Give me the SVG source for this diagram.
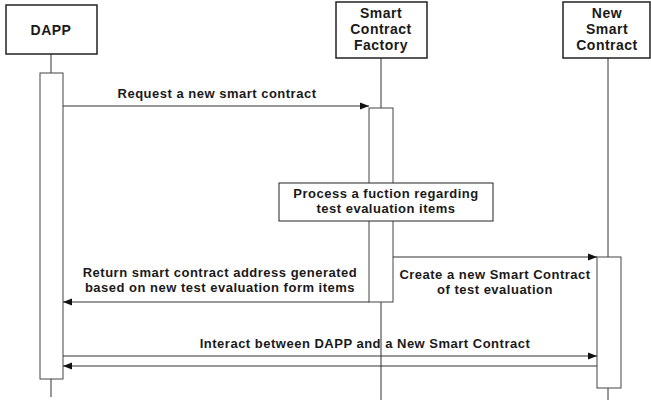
<svg xmlns="http://www.w3.org/2000/svg" width="651" height="401" viewBox="0 0 651 401">
<defs>
<style>
.box{fill:#fff;stroke:#222;stroke-width:1.5}
.act{fill:#fff;stroke:#444;stroke-width:1}
.life{stroke:#333;stroke-width:1;fill:none}
.msg{stroke:#333;stroke-width:1;fill:none}
text{font-family:"Liberation Sans",Arial,sans-serif;font-weight:700;fill:#1a1a1a;text-anchor:middle;letter-spacing:0.5px}
.h{font-size:14px}
.l{font-size:13px}
</style>
<marker id="ah" viewBox="0 0 10 10" refX="10" refY="5" markerWidth="9" markerHeight="9" markerUnits="userSpaceOnUse" orient="auto">
<path d="M0,1 L10,5 L0,9 Z" fill="#111"/>
</marker>
</defs>
<rect width="651" height="401" fill="#fff"/>
<g id="lifelines">
<line class="life" x1="51" y1="54" x2="51" y2="397"/>
<line class="life" x1="381" y1="58" x2="381" y2="400"/>
<line class="life" x1="608" y1="58" x2="608" y2="400"/>
</g>
<g id="dapp">
<rect class="box" x="6" y="5" width="91" height="49"/>
<text class="h" x="51" y="35">DAPP</text>
<rect class="act" x="40" y="73" width="23" height="306"/>
</g>
<g id="factory">
<rect class="box" x="336" y="2" width="91" height="56"/>
<text class="h" x="381" y="18">Smart</text>
<text class="h" x="381" y="34">Contract</text>
<text class="h" x="381" y="50">Factory</text>
<rect class="act" x="369" y="108" width="24" height="194"/>
</g>
<g id="newcontract">
<rect class="box" x="563" y="2" width="87" height="56"/>
<text class="h" x="607" y="18">New</text>
<text class="h" x="607" y="34">Smart</text>
<text class="h" x="607" y="50">Contract</text>
<rect class="act" x="597" y="257" width="24" height="131"/>
</g>
<g id="process">
<rect class="box" x="279" y="183" width="214" height="38" style="stroke-width:1"/>
<text class="l" x="386" y="198">Process a fuction regarding</text>
<text class="l" x="386" y="213">test evaluation items</text>
</g>
<g id="connectors">
<line class="msg" x1="63" y1="106" x2="369" y2="106" marker-end="url(#ah)"/>
<line class="msg" x1="393" y1="257" x2="597" y2="257" marker-end="url(#ah)"/>
<line class="msg" x1="369" y1="302" x2="63" y2="302" marker-end="url(#ah)"/>
<line class="msg" x1="63" y1="356" x2="597" y2="356" marker-end="url(#ah)"/>
<line class="msg" x1="597" y1="366" x2="63" y2="366" marker-end="url(#ah)"/>
</g>
<g id="labels">
<text class="l" x="217" y="98">Request a new smart contract</text>
<text class="l" x="495" y="279">Create a new Smart Contract</text>
<text class="l" x="495" y="294">of test evaluation</text>
<text class="l" x="220" y="277">Return smart contract address generated</text>
<text class="l" x="220" y="292">based on new test evaluation form items</text>
<text class="l" x="365" y="348">Interact between DAPP and a New Smart Contract</text>
</g>
</svg>
